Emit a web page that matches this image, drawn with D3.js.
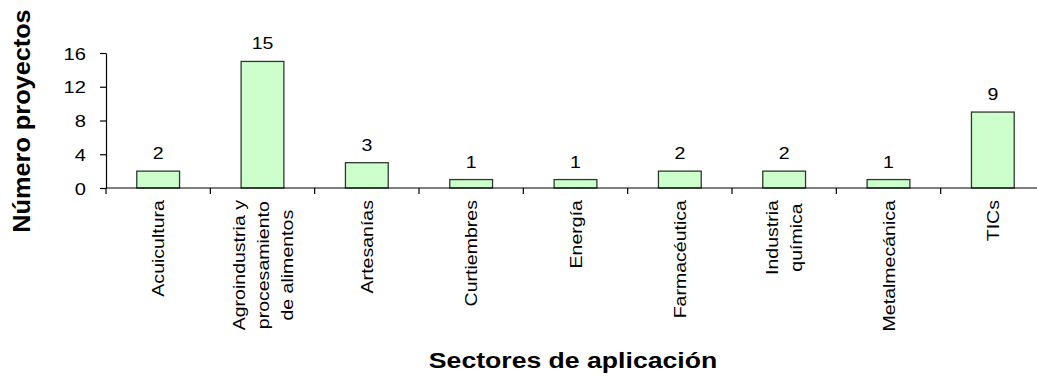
<!DOCTYPE html>
<html>
<head>
<meta charset="utf-8">
<script src="https://cdn.jsdelivr.net/npm/d3@7"></script>
<style>
  html, body { margin: 0; padding: 0; background: #ffffff; }
  svg { display: block; }
  text { font-family: "Liberation Sans", Arial, sans-serif; fill: #000; }
</style>
</head>
<body>
<svg id="chart" width="1037" height="376"></svg>
<script>
// Projects per application sector
const categories = [
  ["Acuicultura"],
  ["Agroindustria y", "procesamiento", "de alimentos"],
  ["Artesanías"],
  ["Curtiembres"],
  ["Energía"],
  ["Farmacéutica"],
  ["Industria", "química"],
  ["Metalmecánica"],
  ["TICs"]
];
const values = [2, 15, 3, 1, 1, 2, 2, 1, 9];
const yTicks = [0, 4, 8, 12, 16];
const yTitle = "Número proyectos";
const xTitle = "Sectores de aplicación";

const svg = d3.select("#chart");
const plot = { left: 106, right: 1045, top: 53, bottom: 188 };

const keys = categories.map(c => c.join(" "));

// One cell per sector (used for the axis ticks at cell boundaries)
const xCell = d3.scaleBand().domain(keys).range([plot.left, plot.right]).padding(0);
// Bars sit centred inside each cell
const xBar = d3.scaleBand().domain(keys).range([plot.left, plot.right])
  .paddingInner(0.59).paddingOuter(0.295);
const y = d3.scaleLinear().domain([0, 16]).range([plot.bottom, plot.top]);

// Text is drawn slightly widened along its baseline
function stretch(sel, sx) {
  sel.each(function () {
    const t = d3.select(this);
    const x = +t.attr("x") || 0, yy = +t.attr("y") || 0;
    t.attr("x", 0).attr("y", 0)
     .attr("transform", `translate(${x},${yy}) scale(${sx},1)`);
  });
}

// Bars
svg.append("g").selectAll("rect")
  .data(values)
  .join("rect")
  .attr("x", (d, i) => xBar(keys[i]))
  .attr("y", d => y(d))
  .attr("width", xBar.bandwidth())
  .attr("height", d => y(0) - y(d))
  .attr("fill", "#ccffcc")
  .attr("stroke", "#2f3a2f")
  .attr("stroke-width", 1.3);

// Value labels
svg.append("g").selectAll("text")
  .data(values)
  .join("text")
  .attr("x", (d, i) => xBar(keys[i]) + xBar.bandwidth() / 2)
  .attr("y", d => y(d) - 12)
  .attr("text-anchor", "middle")
  .style("font-size", "17px")
  .text(d => d)
  .call(stretch, 1.15);

// Y axis
const yAxis = svg.append("g")
  .attr("transform", `translate(${plot.left},0)`)
  .call(d3.axisLeft(y).tickValues(yTicks).tickSize(6).tickSizeOuter(0).tickPadding(14));
yAxis.select(".domain").attr("stroke", "#000").attr("stroke-width", 1.2);
yAxis.selectAll(".tick line").attr("stroke", "#000").attr("stroke-width", 1.2);
yAxis.selectAll(".tick text")
  .style("font-size", "16.5px").attr("font-family", null)
  .attr("dy", null).attr("y", 6)
  .call(stretch, 1.22);

// X axis: baseline and boundary ticks
const xAxis = svg.append("g");
xAxis.append("line")
  .attr("x1", plot.left).attr("x2", plot.right)
  .attr("y1", y(0)).attr("y2", y(0))
  .attr("stroke", "#000").attr("stroke-width", 1.2);
const bounds = keys.map(k => xCell(k)).concat([plot.right]);
xAxis.selectAll("line.tick")
  .data(bounds)
  .join("line")
  .attr("class", "tick")
  .attr("x1", d => d).attr("x2", d => d)
  .attr("y1", y(0)).attr("y2", y(0) + 6)
  .attr("stroke", "#000").attr("stroke-width", 1.2);

// Rotated category labels, block anchored just under the axis, lines centred
const labelTop = y(0) + 12;
const lineGap = 24;
const sxLabel = 1.15;
categories.forEach((lines, i) => {
  const cx = xCell(keys[i]) + xCell.bandwidth() / 2;
  const g = svg.append("g");
  const texts = lines.map(ln => g.append("text")
    .style("font-size", "17px")
    .attr("text-anchor", "middle")
    .text(ln));
  const lens = texts.map(t => t.node().getComputedTextLength() * sxLabel);
  const maxLen = d3.max(lens);
  const n = lines.length;
  texts.forEach((t, j) => {
    const bx = cx + (j - (n - 1) / 2) * lineGap + 6;
    const by = labelTop + maxLen / 2;
    t.attr("transform", `translate(${bx},${by}) rotate(-90) scale(${sxLabel},1)`);
  });
});

// Axis titles
svg.append("text")
  .attr("text-anchor", "middle")
  .style("font-size", "23px").style("font-weight", "bold")
  .attr("transform", `translate(30,121) rotate(-90) scale(1.1,1)`)
  .text(yTitle);

svg.append("text")
  .attr("text-anchor", "middle")
  .style("font-size", "22px").style("font-weight", "bold")
  .attr("transform", `translate(573,368) scale(1.21,1)`)
  .text(xTitle);
</script>
</body>
</html>
